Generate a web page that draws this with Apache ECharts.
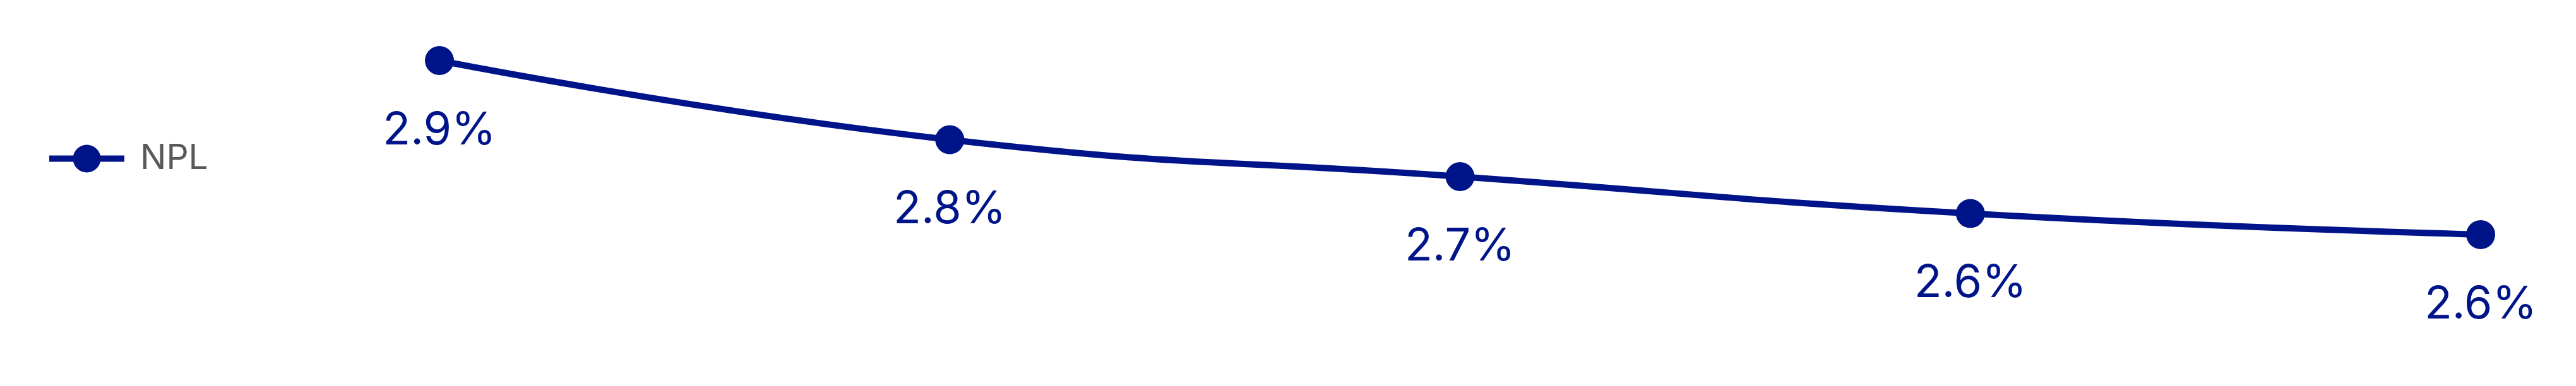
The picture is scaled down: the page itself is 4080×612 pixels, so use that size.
<!DOCTYPE html>
<html>
<head>
<meta charset="utf-8">
<script src="https://cdn.jsdelivr.net/npm/echarts@6/dist/echarts.min.js"></script>
<style>
html,body{margin:0;padding:0;background:#fff;}
#chart{width:4080px;height:612px;}
</style>
</head>
<body>
<div id="chart"></div>
<script>
const categories = ['P1', 'P2', 'P3', 'P4', 'P5'];
const seriesName = 'NPL';
const nplValues = [2.93, 2.78, 2.71, 2.64, 2.60];

const navy = '#001489';
const chart = echarts.init(document.getElementById('chart'));
chart.setOption({
  animation: false,
  backgroundColor: '#ffffff',
  textStyle: { fontFamily: 'Inter' },
  legend: {
    show: true,
    orient: 'vertical',
    left: 73,
    top: 224,
    padding: 0,
    itemWidth: 119,
    itemHeight: 55,
    lineStyle: { width: 10, color: navy },
    textStyle: { fontFamily: 'Inter', fontSize: 55, color: '#595959', padding: [0, 0, 0, 20] },
    data: [seriesName]
  },
  grid: { left: 696, right: 151, top: 37.5, bottom: 156.5, containLabel: false },
  xAxis: {
    type: 'category',
    data: categories,
    boundaryGap: false,
    show: false
  },
  yAxis: {
    type: 'value',
    min: 2.5,
    max: 3.0,
    show: false
  },
  series: [{
    name: seriesName,
    type: 'line',
    data: nplValues,
    smooth: true,
    symbol: 'circle',
    symbolSize: 46,
    color: navy,
    lineStyle: { width: 10, color: navy },
    itemStyle: { color: navy },
    label: {
      show: true,
      position: 'bottom',
      distance: 52,
      fontFamily: 'Inter',
      fontSize: 72,
      color: navy,
      formatter: p => p.value.toFixed(1) + '%'
    }
  }]
});
</script>
</body>
</html>
